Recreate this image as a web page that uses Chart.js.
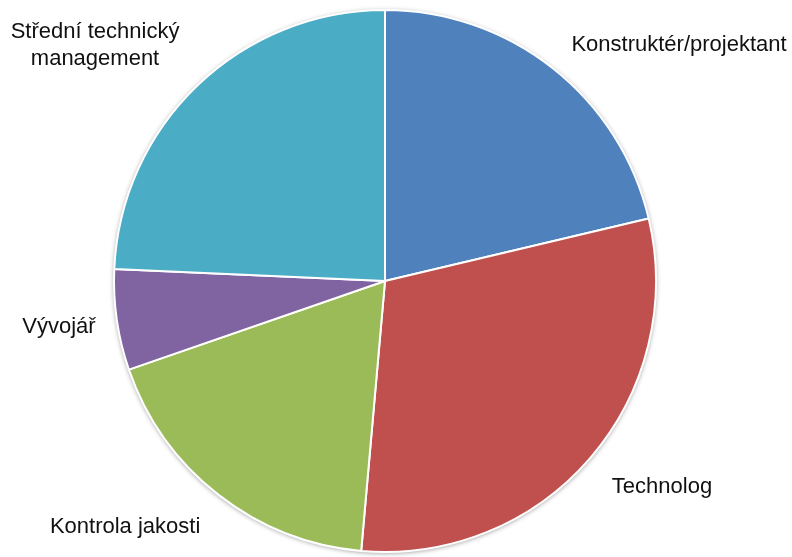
<!DOCTYPE html>
<html>
<head>
<meta charset="utf-8">
<script src="https://cdn.jsdelivr.net/npm/chart.js@4"></script>
<style>
  html, body { margin: 0; padding: 0; background: #fff; }
  #wrap { width: 792px; height: 557px; position: relative; }
</style>
</head>
<body>
<div id="wrap"><canvas id="pozice"></canvas></div>
<script>
const kategorie = [
  "Konstruktér/projektant",
  "Technolog",
  "Kontrola jakosti",
  "Vývojář",
  ["Střední technický", "management"],
];
const hodnoty = [21.3, 30.1, 18.3, 6.0, 24.3];
const barvy = ["#4F81BD", "#C0504D", "#9BBB59", "#8064A2", "#4BACC6"];

// where each label sits, relative to the pie centre, in units of the radius
const umisteni_popisku = [
  [1.085, -0.849],
  [1.022, 0.782],
  [-0.959, 0.93],
  [-1.203, 0.192],
  [-1.07, -0.897],
];

const plugin_stin = {
  id: "stin",
  beforeDatasetsDraw: (chart) => {
    const arc = chart.getDatasetMeta(0).data[0];
    if (!arc) return;
    const ctx = chart.ctx;
    ctx.save();
    ctx.shadowColor = "rgba(0, 0, 0, 0.45)";
    ctx.shadowBlur = 5;
    ctx.shadowOffsetX = 0;
    ctx.shadowOffsetY = 1;
    ctx.fillStyle = "#ffffff";
    ctx.beginPath();
    ctx.arc(arc.x, arc.y, arc.outerRadius, 0, Math.PI * 2);
    ctx.fill();
    ctx.restore();
  },
};

const plugin_popisky = {
  id: "popisky",
  afterDatasetsDraw: (chart) => {
    const ctx = chart.ctx;
    const meta = chart.getDatasetMeta(0);
    ctx.save();
    ctx.font = '22px "Liberation Sans", Arial, sans-serif';
    ctx.fillStyle = "#111111";
    ctx.textAlign = "center";
    ctx.textBaseline = "alphabetic";
    meta.data.forEach((arc, i) => {
      const [fx, fy] = umisteni_popisku[i];
      const x = arc.x + fx * arc.outerRadius;
      const y = arc.y + fy * arc.outerRadius;
      const radky = Array.isArray(kategorie[i]) ? kategorie[i] : [kategorie[i]];
      radky.forEach((t, j) => ctx.fillText(t, x, y + j * 27));
    });
    ctx.restore();
  },
};

const ctx = document.getElementById("pozice").getContext("2d");
new Chart(ctx, {
  type: "pie",
  data: {
    labels: kategorie,
    datasets: [
      {
        data: hodnoty,
        backgroundColor: barvy,
        borderColor: "#ffffff",
        borderWidth: 2,
      },
    ],
  },
  options: {
    responsive: true,
    maintainAspectRatio: false,
    animation: false,
    layout: {
      padding: { left: 113, right: 135, top: 9, bottom: 4 },
    },
    plugins: {
      legend: { display: false },
      tooltip: { enabled: false },
    },
  },
  plugins: [plugin_stin, plugin_popisky],
});
</script>
</body>
</html>
